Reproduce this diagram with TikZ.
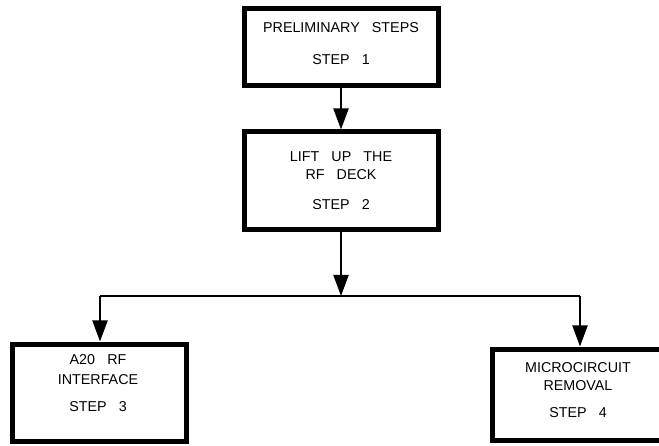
\documentclass[tikz,border=0pt]{standalone}
\usepackage{fontspec}
\setmainfont{Liberation Sans}
\usetikzlibrary{arrows.meta}
\newcommand{\wg}{\hspace{0.85em}}
\begin{document}
\begin{tikzpicture}[x=1pt,y=1pt,
  stepbox/.style={draw=black, line width=5pt, rectangle, inner sep=0pt},
  lbl/.style={inner sep=0pt, text depth=0pt, font=\fontsize{14.3}{16}\selectfont},
  conn/.style={draw=black, line width=2pt},
  arr/.style={conn, -{Triangle[length=21pt,width=15pt]}}]
\useasboundingbox (0,0) rectangle (659,445);
% boxes
\node[stepbox, minimum width=194pt, minimum height=77pt] (b1) at (341,397.5) {};
\node[stepbox, minimum width=194pt, minimum height=98pt] (b2) at (341,264) {};
\node[stepbox, minimum width=174pt, minimum height=97pt] (b3) at (99,52.5) {};
\node[stepbox, minimum width=172pt, minimum height=91pt] (b4) at (578,50.5) {};
% texts
\node[lbl] (t1a) at (341,417) {PRELIMINARY\wg STEPS};
\node[lbl] (t1b) at (341,385) {STEP\wg 1};
\node[lbl] (t2a) at (341,288) {LIFT\wg UP\wg THE};
\node[lbl] (t2b) at (341,270) {RF\wg DECK};
\node[lbl] (t2c) at (341,240) {STEP\wg 2};
\node[lbl] (t3a) at (98,85) {A20\wg RF};
\node[lbl] (t3b) at (98,65) {INTERFACE};
\node[lbl] (t3c) at (98,38) {STEP\wg 3};
\node[lbl] (t4a) at (578,77) {MICROCIRCUIT};
\node[lbl] (t4b) at (578,59) {REMOVAL};
\node[lbl] (t4c) at (578,32) {STEP\wg 4};
% connectors
\coordinate (jm) at (341,149);
\coordinate (jl) at (100,149);
\coordinate (jr) at (580,149);
\draw[arr] (b1.south) -- (b2.north);
\draw[arr] (b2.south) -- (jm);
\draw[conn] (jl) -- (jr);
\draw[arr] (jl) -- (jl |- b3.north);
\draw[arr] (jr) -- (jr |- b4.north);
\end{tikzpicture}
\end{document}
